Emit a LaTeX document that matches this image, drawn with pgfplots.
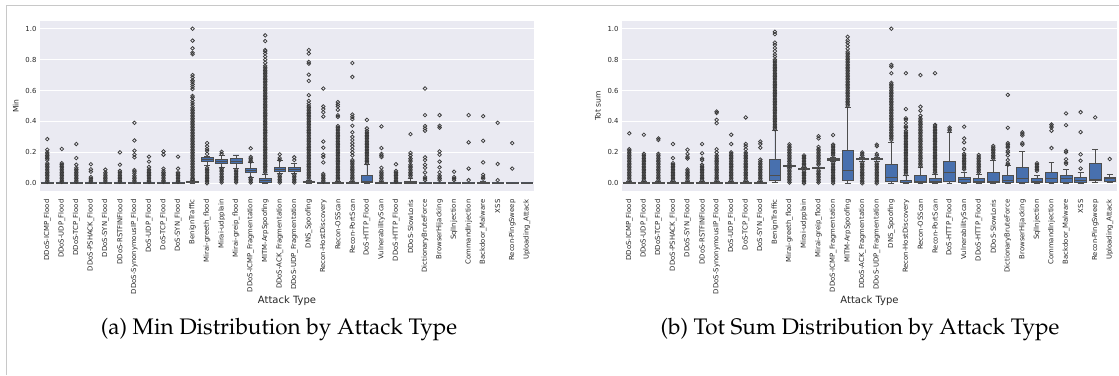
\documentclass[border=0pt]{standalone}
\usepackage[T1]{fontenc}
\usepackage{fontspec}
\usepackage{pgfplots}
\pgfplotsset{compat=1.18}
\usepgfplotslibrary{statistics}
\newfontfamily\dvsans{DejaVu Sans}
\definecolor{bgcol}{HTML}{EAEAF2}
\definecolor{boxblue}{RGB}{72,112,174}
\definecolor{linegray}{RGB}{78,78,78}
\definecolor{markgray}{RGB}{58,58,58}
\definecolor{txt}{RGB}{38,38,38}
\definecolor{framegray}{RGB}{200,200,200}
\newcommand{\capfont}{\fontencoding{T1}\fontfamily{ppl}\selectfont}
\pgfplotsset{
  sns/.style={
    scale only axis, anchor=south west,
    xmin=0.5, xmax=34.5, ymin=-0.05, ymax=1.05,
    axis background/.style={fill=bgcol},
    axis line style={draw=none},
    major tick length=0pt,
    ymajorgrids, grid style={white, line width=0.9pt},
    ytick={0,0.2,0.4,0.6,0.8,1},
    yticklabel style={/pgf/number format/fixed, /pgf/number format/precision=1, /pgf/number format/fixed zerofill},
    /pgf/number format/assume math mode=true,
    ticklabel style={font=\dvsans\fontsize{6.9}{8}\selectfont, text=txt},
    xtick={1,...,34},
    xticklabel style={rotate=90, anchor=east, font=\dvsans\fontsize{6.9}{8}\selectfont},
    xticklabel shift=5pt,
    xlabel style={font=\dvsans\fontsize{10}{12}\selectfont, text=txt, yshift=5pt},
    ylabel style={font=\dvsans\fontsize{7.6}{9}\selectfont, text=txt},
    boxplot/draw direction=y,
    boxplot/box extend=0.8,
    boxplot/whisker extend=0.4,
    xticklabels={DDoS-ICMP\_Flood, DDoS-UDP\_Flood, DDoS-TCP\_Flood, DDoS-PSHACK\_Flood, DDoS-SYN\_Flood, DDoS-RSTFINFlood, DDoS-SynonymousIP\_Flood, DoS-UDP\_Flood, DoS-TCP\_Flood, DoS-SYN\_Flood, BenignTraffic, Mirai-greeth\_flood, Mirai-udpplain, Mirai-greip\_flood, DDoS-ICMP\_Fragmentation, MITM-ArpSpoofing, DDoS-ACK\_Fragmentation, DDoS-UDP\_Fragmentation, DNS\_Spoofing, Recon-HostDiscovery, Recon-OSScan, Recon-PortScan, DoS-HTTP\_Flood, VulnerabilityScan, DDoS-HTTP\_Flood, DDoS-SlowLoris, DictionaryBruteForce, BrowserHijacking, SqlInjection, CommandInjection, Backdoor\_Malware, XSS, Recon-PingSweep, Uploading\_Attack},
  },
  mybox/.style={draw=linegray, fill=boxblue, line width=0.65pt, mark=o, mark size=1.8pt, mark options={draw=markgray, fill=none, line width=0.75pt}},
  bx/.style n args={6}{mybox, boxplot prepared={draw position=#1, lower whisker=#2, lower quartile=#3, median=#4, upper quartile=#5, upper whisker=#6}},
}
\begin{document}
\begin{tikzpicture}
\path[use as bounding box] (0,0) rectangle (1119pt,375pt);
\draw[framegray, line width=0.8pt] (6.5pt,0pt) -- (6.5pt,369.5pt) -- (1119pt,369.5pt);
\begin{axis}[sns, at={(40pt,184pt)}, width=494pt, height=170pt, xlabel={Attack Type}, ylabel={Min}]
\addplot[bx={1}{0}{0}{0.002}{0.004}{0.008}] table[row sep=\\,y index=0]{data\\0.286\\0.217\\0.20\\0.19\\0.18\\0.17\\0.16\\0.15\\0.13\\0.12\\0.11\\0.10\\0.09\\0.08\\0.07\\0.06\\0.05\\0.04\\0.03\\0.02\\0.01\\};
\addplot[bx={2}{0}{0}{0.002}{0.004}{0.008}] table[row sep=\\,y index=0]{data\\0.222\\0.13\\0.12\\0.11\\0.10\\0.09\\0.08\\0.07\\0.06\\0.05\\0.04\\0.03\\0.02\\0.01\\};
\addplot[bx={3}{0}{0}{0.002}{0.004}{0.008}] table[row sep=\\,y index=0]{data\\0.254\\0.163\\0.12\\0.10\\0.09\\0.08\\0.07\\0.06\\0.05\\0.04\\0.03\\0.02\\0.01\\};
\addplot[bx={4}{0}{0}{0.002}{0.004}{0.008}] table[row sep=\\,y index=0]{data\\0.123\\0.09\\0.075\\0.04\\0.03\\0.02\\0.01\\};
\addplot[bx={5}{0}{0}{0.002}{0.004}{0.008}] table[row sep=\\,y index=0]{data\\0.088\\0.07\\0.06\\0.05\\0.04\\0.03\\0.02\\0.01\\};
\addplot[bx={6}{0}{0}{0.002}{0.004}{0.008}] table[row sep=\\,y index=0]{data\\0.20\\0.12\\0.08\\0.07\\0.06\\0.05\\0.04\\0.03\\0.02\\0.01\\};
\addplot[bx={7}{0}{0}{0.002}{0.004}{0.008}] table[row sep=\\,y index=0]{data\\0.391\\0.277\\0.211\\0.185\\0.168\\0.085\\0.075\\0.065\\0.05\\0.04\\0.03\\0.02\\0.01\\};
\addplot[bx={8}{0}{0}{0.002}{0.004}{0.008}] table[row sep=\\,y index=0]{data\\0.172\\0.14\\0.105\\0.09\\0.08\\0.07\\0.06\\0.05\\0.04\\0.03\\0.02\\0.01\\};
\addplot[bx={9}{0}{0}{0.002}{0.004}{0.008}] table[row sep=\\,y index=0]{data\\0.206\\0.185\\0.095\\0.08\\0.07\\0.06\\0.05\\0.04\\0.03\\0.02\\0.01\\};
\addplot[bx={10}{0}{0}{0.002}{0.004}{0.008}] table[row sep=\\,y index=0]{data\\0.172\\0.095\\0.07\\0.06\\0.05\\0.04\\0.03\\0.02\\0.01\\};
\addplot[bx={11}{0}{0.005}{0.008}{0.012}{0.02}] table[row sep=\\,y index=0]{data\\1.0\\0.923\\0.873\\0.845\\0.835\\0.70\\0.685\\0.665\\0.655\\0.64\\0.625\\0.61\\0.565\\0.555\\0.535\\0.52\\0.505\\0.49\\0.48\\0.47\\0.46\\0.45\\0.44\\0.43\\0.42\\0.41\\0.40\\0.39\\0.38\\0.37\\0.36\\0.35\\0.34\\0.33\\0.32\\0.31\\0.30\\0.29\\0.28\\0.27\\0.26\\0.25\\0.24\\0.23\\0.22\\0.21\\0.20\\0.19\\0.18\\0.17\\0.16\\0.15\\0.14\\0.13\\0.12\\0.11\\0.10\\0.09\\0.08\\0.07\\0.06\\0.05\\0.04\\0.03\\0.025\\};
\addplot[bx={12}{0.114}{0.14}{0.152}{0.166}{0.174}] table[row sep=\\,y index=0]{data\\0.26\\0.24\\0.222\\0.21\\0.19\\0.10\\0.09\\0.08\\0.07\\0.06\\0.05\\0.04\\0.03\\0.02\\0.01\\0.0\\};
\addplot[bx={13}{0.105}{0.132}{0.143}{0.152}{0.178}] table[row sep=\\,y index=0]{data\\0.204\\0.19\\0.095\\0.085\\0.075\\0.065\\0.055\\0.045\\0.035\\0.025\\0.015\\0.005\\};
\addplot[bx={14}{0.095}{0.13}{0.145}{0.16}{0.183}] table[row sep=\\,y index=0]{data\\0.085\\0.075\\0.065\\0.055\\0.045\\0.035\\0.025\\0.015\\0.005\\};
\addplot[bx={15}{0.04}{0.071}{0.085}{0.097}{0.133}] table[row sep=\\,y index=0]{data\\0.226\\0.17\\0.16\\0.15\\0.14\\0.035\\0.025\\0.015\\0.005\\};
\addplot[bx={16}{0}{0.009}{0.02}{0.03}{0.06}] table[row sep=\\,y index=0]{data\\0.957\\0.92\\0.862\\0.855\\0.84\\0.82\\0.80\\0.78\\0.76\\0.75\\0.74\\0.73\\0.72\\0.71\\0.70\\0.69\\0.68\\0.67\\0.66\\0.65\\0.64\\0.63\\0.62\\0.61\\0.60\\0.59\\0.58\\0.57\\0.56\\0.55\\0.54\\0.53\\0.52\\0.51\\0.50\\0.49\\0.48\\0.47\\0.46\\0.45\\0.44\\0.43\\0.42\\0.41\\0.40\\0.39\\0.38\\0.37\\0.36\\0.35\\0.34\\0.33\\0.32\\0.31\\0.30\\0.29\\0.28\\0.27\\0.26\\0.25\\0.24\\0.23\\0.22\\0.21\\0.20\\0.19\\0.18\\0.17\\0.16\\0.15\\0.14\\0.13\\0.12\\0.11\\0.10\\0.09\\0.08\\0.07\\};
\addplot[bx={17}{0.065}{0.075}{0.09}{0.103}{0.146}] table[row sep=\\,y index=0]{data\\0.187\\0.163\\0.15\\0.055\\0.045\\0.035\\0.025\\0.015\\0.005\\};
\addplot[bx={18}{0.065}{0.078}{0.09}{0.10}{0.129}] table[row sep=\\,y index=0]{data\\0.168\\0.15\\0.055\\0.045\\0.035\\0.025\\0.015\\0.005\\};
\addplot[bx={19}{0}{0.006}{0.01}{0.015}{0.022}] table[row sep=\\,y index=0]{data\\0.862\\0.839\\0.785\\0.774\\0.703\\0.662\\0.57\\0.533\\0.515\\0.50\\0.49\\0.48\\0.47\\0.46\\0.45\\0.44\\0.43\\0.42\\0.41\\0.40\\0.39\\0.38\\0.37\\0.36\\0.35\\0.34\\0.33\\0.32\\0.31\\0.30\\0.29\\0.28\\0.27\\0.26\\0.25\\0.24\\0.23\\0.22\\0.21\\0.20\\0.19\\0.18\\0.17\\0.16\\0.15\\0.14\\0.13\\0.12\\0.11\\0.10\\0.09\\0.08\\0.07\\0.06\\0.05\\0.04\\0.03\\};
\addplot[bx={20}{0}{0.001}{0.002}{0.004}{0.008}] table[row sep=\\,y index=0]{data\\0.613\\0.497\\0.48\\0.46\\0.432\\0.27\\0.23\\0.185\\0.17\\0.135\\0.06\\0.05\\0.04\\0.03\\0.02\\0.01\\};
\addplot[bx={21}{0}{0.002}{0.004}{0.007}{0.012}] table[row sep=\\,y index=0]{data\\0.525\\0.51\\0.497\\0.475\\0.44\\0.43\\0.37\\0.36\\0.35\\0.34\\0.33\\0.32\\0.31\\0.30\\0.29\\0.28\\0.27\\0.26\\0.25\\0.24\\0.23\\0.22\\0.21\\0.20\\0.19\\0.18\\0.17\\0.16\\0.15\\0.14\\0.13\\0.12\\0.11\\0.10\\0.09\\0.08\\0.07\\0.06\\0.05\\0.04\\0.03\\0.02\\};
\addplot[bx={22}{0}{0.002}{0.004}{0.007}{0.012}] table[row sep=\\,y index=0]{data\\0.778\\0.688\\0.445\\0.43\\0.415\\0.372\\0.33\\0.30\\0.28\\0.26\\0.24\\0.22\\0.20\\0.18\\0.15\\0.14\\0.13\\0.12\\0.11\\0.10\\0.09\\0.08\\0.07\\0.06\\0.05\\0.04\\0.03\\0.02\\};
\addplot[bx={23}{0}{0.003}{0.01}{0.054}{0.12}] table[row sep=\\,y index=0]{data\\0.41\\0.355\\0.34\\0.33\\0.32\\0.31\\0.30\\0.29\\0.28\\0.27\\0.26\\0.25\\0.24\\0.23\\0.22\\0.21\\0.20\\0.19\\0.18\\0.17\\0.16\\0.15\\0.14\\0.13\\};
\addplot[bx={24}{0}{0.002}{0.004}{0.008}{0.015}] table[row sep=\\,y index=0]{data\\0.368\\0.228\\0.19\\0.18\\0.17\\0.10\\0.08\\0.07\\0.06\\0.05\\0.04\\0.03\\0.02\\};
\addplot[bx={25}{0}{0.001}{0.002}{0.004}{0.008}] table[row sep=\\,y index=0]{data\\0.123\\0.08\\0.07\\0.06\\0.05\\0.04\\0.03\\0.02\\0.01\\};
\addplot[bx={26}{0}{0.002}{0.006}{0.015}{0.03}] table[row sep=\\,y index=0]{data\\0.318\\0.196\\0.18\\0.16\\0.15\\0.14\\0.12\\0.11\\0.10\\0.09\\0.08\\0.07\\0.06\\0.05\\0.04\\};
\addplot[bx={27}{0}{0.001}{0.002}{0.004}{0.008}] table[row sep=\\,y index=0]{data\\0.613\\0.441\\0.37\\0.355\\0.34\\0.168\\0.15\\0.12\\0.10\\0.07\\0.04\\0.03\\0.02\\};
\addplot[bx={28}{0}{0.001}{0.002}{0.004}{0.008}] table[row sep=\\,y index=0]{data\\0.441\\0.372\\0.36\\0.206\\0.185\\0.14\\0.103\\0.071\\0.05\\0.04\\0.03\\0.02\\};
\addplot[bx={29}{0}{0.001}{0.002}{0.004}{0.008}] table[row sep=\\,y index=0]{data\\0.075\\0.04\\0.03\\0.02\\};
\addplot[bx={30}{0}{0.001}{0.002}{0.004}{0.008}] table[row sep=\\,y index=0]{data\\0.441\\0.265\\0.095\\0.02\\};
\addplot[bx={31}{0}{0.001}{0.004}{0.008}{0.015}] table[row sep=\\,y index=0]{data\\0.434\\0.275\\0.135\\0.055\\0.04\\0.03\\};
\addplot[bx={32}{0}{0.001}{0.002}{0.004}{0.008}] table[row sep=\\,y index=0]{data\\0.391\\0.125\\0.02\\};
\addplot[bx={33}{0}{0.001}{0.002}{0.004}{0.008}] table[row sep=\\,y index=0]{data\\0.26\\0.095\\};
\addplot[bx={34}{0}{0.001}{0.002}{0.003}{0.005}] coordinates {};
\end{axis}
\begin{axis}[sns, at={(622pt,184pt)}, width=495pt, height=170pt, xlabel={Attack Type}, ylabel={Tot sum}]
\addplot[bx={1}{0}{0.002}{0.005}{0.008}{0.015}] table[row sep=\\,y index=0]{data\\0.323\\0.22\\0.21\\0.20\\0.19\\0.18\\0.17\\0.16\\0.15\\0.14\\0.13\\0.12\\0.11\\0.10\\0.09\\0.08\\0.07\\0.06\\0.05\\0.04\\0.03\\0.02\\};
\addplot[bx={2}{0}{0.002}{0.005}{0.008}{0.015}] table[row sep=\\,y index=0]{data\\0.314\\0.19\\0.18\\0.17\\0.16\\0.15\\0.14\\0.13\\0.12\\0.11\\0.10\\0.09\\0.08\\0.07\\0.06\\0.05\\0.04\\0.03\\0.02\\};
\addplot[bx={3}{0}{0.002}{0.005}{0.008}{0.015}] table[row sep=\\,y index=0]{data\\0.29\\0.28\\0.19\\0.18\\0.17\\0.16\\0.15\\0.14\\0.13\\0.12\\0.11\\0.10\\0.09\\0.08\\0.07\\0.06\\0.05\\0.04\\0.03\\0.02\\};
\addplot[bx={4}{0}{0.002}{0.005}{0.008}{0.015}] table[row sep=\\,y index=0]{data\\0.254\\0.163\\0.13\\0.12\\0.11\\0.10\\0.09\\0.08\\0.07\\0.06\\0.05\\0.04\\0.03\\0.02\\};
\addplot[bx={5}{0}{0.002}{0.005}{0.008}{0.015}] table[row sep=\\,y index=0]{data\\0.217\\0.19\\0.17\\0.16\\0.09\\0.08\\0.07\\0.06\\0.05\\0.04\\0.03\\0.02\\};
\addplot[bx={6}{0}{0.002}{0.005}{0.008}{0.015}] table[row sep=\\,y index=0]{data\\0.254\\0.194\\0.16\\0.15\\0.12\\0.11\\0.10\\0.09\\0.08\\0.07\\0.06\\0.05\\0.04\\0.03\\0.02\\};
\addplot[bx={7}{0}{0.002}{0.005}{0.008}{0.015}] table[row sep=\\,y index=0]{data\\0.464\\0.455\\0.41\\0.389\\0.22\\0.20\\0.18\\0.17\\0.16\\0.15\\0.14\\0.13\\0.12\\0.11\\0.10\\0.09\\0.08\\0.07\\0.06\\0.05\\0.04\\0.03\\0.02\\};
\addplot[bx={8}{0}{0.002}{0.005}{0.008}{0.015}] table[row sep=\\,y index=0]{data\\0.314\\0.254\\0.20\\0.19\\0.18\\0.17\\0.16\\0.15\\0.14\\0.13\\0.12\\0.11\\0.10\\0.09\\0.08\\0.07\\0.06\\0.05\\0.04\\0.03\\0.02\\};
\addplot[bx={9}{0}{0.002}{0.005}{0.008}{0.015}] table[row sep=\\,y index=0]{data\\0.426\\0.254\\0.24\\0.22\\0.20\\0.19\\0.18\\0.17\\0.16\\0.15\\0.14\\0.13\\0.12\\0.11\\0.10\\0.09\\0.08\\0.07\\0.06\\0.05\\0.04\\0.03\\0.02\\};
\addplot[bx={10}{0}{0.002}{0.005}{0.008}{0.015}] table[row sep=\\,y index=0]{data\\0.27\\0.255\\0.23\\0.153\\0.14\\0.13\\0.12\\0.11\\0.10\\0.09\\0.08\\0.07\\0.06\\0.05\\0.04\\0.03\\0.02\\};
\addplot[bx={11}{0.006}{0.017}{0.053}{0.152}{0.344}] table[row sep=\\,y index=0]{data\\0.98\\0.965\\0.91\\0.895\\0.875\\0.855\\0.835\\0.82\\0.80\\0.79\\0.78\\0.77\\0.76\\0.75\\0.74\\0.73\\0.72\\0.71\\0.70\\0.69\\0.68\\0.67\\0.66\\0.65\\0.64\\0.63\\0.62\\0.61\\0.60\\0.59\\0.58\\0.57\\0.56\\0.55\\0.54\\0.53\\0.52\\0.51\\0.50\\0.49\\0.48\\0.47\\0.46\\0.45\\0.44\\0.43\\0.42\\0.41\\0.40\\0.39\\0.38\\0.37\\0.36\\0.35\\};
\addplot[bx={12}{0.105}{0.108}{0.111}{0.114}{0.118}] table[row sep=\\,y index=0]{data\\0.252\\0.24\\0.23\\0.22\\0.21\\0.20\\0.19\\0.18\\0.17\\0.16\\0.15\\0.14\\0.13\\0.12\\0.095\\0.085\\0.075\\0.065\\0.055\\0.045\\0.035\\0.025\\0.015\\0.005\\};
\addplot[bx={13}{0.09}{0.093}{0.096}{0.099}{0.102}] table[row sep=\\,y index=0]{data\\0.18\\0.17\\0.16\\0.15\\0.14\\0.13\\0.12\\0.11\\0.08\\0.07\\0.06\\0.05\\0.04\\0.03\\0.02\\0.01\\0.0\\};
\addplot[bx={14}{0.094}{0.097}{0.10}{0.103}{0.106}] table[row sep=\\,y index=0]{data\\0.305\\0.29\\0.235\\0.22\\0.21\\0.20\\0.19\\0.18\\0.17\\0.16\\0.15\\0.14\\0.13\\0.12\\0.085\\0.075\\0.065\\0.055\\0.045\\0.035\\0.025\\0.015\\0.005\\};
\addplot[bx={15}{0.14}{0.148}{0.155}{0.16}{0.166}] table[row sep=\\,y index=0]{data\\0.312\\0.25\\0.24\\0.23\\0.22\\0.21\\0.20\\0.19\\0.18\\0.13\\0.12\\0.11\\0.10\\0.09\\0.08\\0.07\\0.06\\0.05\\0.04\\0.03\\0.02\\0.01\\0.0\\};
\addplot[bx={16}{0}{0.02}{0.086}{0.21}{0.49}] table[row sep=\\,y index=0]{data\\0.948\\0.925\\0.91\\0.89\\0.87\\0.85\\0.84\\0.83\\0.82\\0.81\\0.80\\0.79\\0.78\\0.77\\0.76\\0.75\\0.74\\0.73\\0.72\\0.71\\0.70\\0.69\\0.68\\0.67\\0.66\\0.65\\0.64\\0.63\\0.62\\0.61\\0.60\\0.59\\0.58\\0.57\\0.56\\0.55\\0.54\\0.53\\0.52\\0.51\\0.50\\};
\addplot[bx={17}{0.145}{0.152}{0.157}{0.162}{0.17}] table[row sep=\\,y index=0]{data\\0.20\\0.19\\0.18\\0.13\\0.12\\0.11\\0.10\\0.09\\0.08\\0.07\\0.06\\0.05\\0.04\\0.03\\0.02\\0.01\\0.0\\};
\addplot[bx={18}{0.145}{0.152}{0.157}{0.162}{0.17}] table[row sep=\\,y index=0]{data\\0.25\\0.24\\0.19\\0.18\\0.13\\0.12\\0.11\\0.10\\0.09\\0.08\\0.07\\0.06\\0.05\\0.04\\0.03\\0.02\\0.01\\0.0\\};
\addplot[bx={19}{0}{0.01}{0.041}{0.12}{0.265}] table[row sep=\\,y index=0]{data\\1.0\\0.766\\0.755\\0.712\\0.65\\0.64\\0.63\\0.62\\0.61\\0.60\\0.59\\0.58\\0.57\\0.56\\0.55\\0.54\\0.53\\0.52\\0.51\\0.50\\0.49\\0.48\\0.47\\0.46\\0.45\\0.44\\0.43\\0.42\\0.41\\0.40\\0.39\\0.38\\0.37\\0.36\\0.35\\0.34\\0.33\\0.32\\0.31\\0.30\\0.29\\0.28\\};
\addplot[bx={20}{0}{0.003}{0.008}{0.02}{0.049}] table[row sep=\\,y index=0]{data\\0.712\\0.48\\0.42\\0.41\\0.39\\0.37\\0.36\\0.34\\0.33\\0.32\\0.31\\0.30\\0.29\\0.28\\0.27\\0.26\\0.25\\0.24\\0.23\\0.22\\0.21\\0.20\\0.19\\0.18\\0.17\\0.16\\0.15\\0.14\\0.13\\0.12\\0.11\\0.10\\0.09\\0.08\\0.07\\0.06\\};
\addplot[bx={21}{0}{0.005}{0.015}{0.049}{0.103}] table[row sep=\\,y index=0]{data\\0.70\\0.495\\0.47\\0.437\\0.42\\0.41\\0.40\\0.39\\0.38\\0.37\\0.36\\0.35\\0.34\\0.33\\0.32\\0.31\\0.30\\0.29\\0.28\\0.27\\0.26\\0.25\\0.24\\0.23\\0.22\\0.21\\0.20\\0.19\\0.18\\0.17\\0.16\\0.15\\0.14\\0.13\\0.12\\0.11\\};
\addplot[bx={22}{0}{0.003}{0.01}{0.032}{0.06}] table[row sep=\\,y index=0]{data\\0.712\\0.378\\0.37\\0.36\\0.35\\0.34\\0.33\\0.32\\0.31\\0.30\\0.29\\0.28\\0.27\\0.26\\0.25\\0.24\\0.23\\0.22\\0.21\\0.20\\0.19\\0.18\\0.17\\0.16\\0.15\\0.14\\0.13\\0.12\\0.11\\0.10\\0.09\\0.08\\0.07\\};
\addplot[bx={23}{0}{0.013}{0.071}{0.14}{0.327}] table[row sep=\\,y index=0]{data\\0.36\\0.35\\0.34\\};
\addplot[bx={24}{0}{0.008}{0.028}{0.039}{0.07}] table[row sep=\\,y index=0]{data\\0.366\\0.29\\0.265\\0.221\\0.19\\0.18\\0.17\\0.16\\0.15\\0.14\\0.13\\0.12\\0.11\\0.10\\0.09\\};
\addplot[bx={25}{0}{0.005}{0.015}{0.032}{0.055}] table[row sep=\\,y index=0]{data\\0.183\\0.17\\0.16\\0.15\\0.14\\0.13\\0.12\\0.11\\0.10\\0.09\\0.08\\0.07\\};
\addplot[bx={26}{0}{0.005}{0.015}{0.071}{0.146}] table[row sep=\\,y index=0]{data\\0.241\\0.23\\0.22\\0.21\\0.20\\0.19\\0.18\\0.17\\0.16\\};
\addplot[bx={27}{0}{0.005}{0.02}{0.054}{0.114}] table[row sep=\\,y index=0]{data\\0.572\\0.359\\0.26\\0.25\\0.24\\0.23\\0.21\\0.20\\0.18\\0.15\\0.13\\0.12\\};
\addplot[bx={28}{0}{0.008}{0.035}{0.103}{0.206}] table[row sep=\\,y index=0]{data\\0.33\\0.32\\0.31\\0.26\\0.25\\};
\addplot[bx={29}{0}{0.003}{0.01}{0.032}{0.05}] table[row sep=\\,y index=0]{data\\0.13\\0.12\\0.11\\0.10\\0.09\\0.08\\};
\addplot[bx={30}{0}{0.005}{0.032}{0.073}{0.135}] table[row sep=\\,y index=0]{data\\0.38\\0.37\\0.36\\0.34\\0.228\\};
\addplot[bx={31}{0}{0.005}{0.034}{0.054}{0.09}] table[row sep=\\,y index=0]{data\\0.452\\0.376\\0.21\\0.20\\0.155\\0.135\\0.125\\};
\addplot[bx={32}{0}{0.003}{0.02}{0.041}{0.071}] table[row sep=\\,y index=0]{data\\0.46\\0.331\\0.187\\0.146\\0.095\\};
\addplot[bx={33}{0.005}{0.02}{0.028}{0.127}{0.221}] table[row sep=\\,y index=0]{data\\0.426\\};
\addplot[bx={34}{0.005}{0.015}{0.03}{0.037}{0.056}] table[row sep=\\,y index=0]{data\\0.157\\};
\end{axis}
\node[font=\capfont\fontsize{22.5}{26}\selectfont] at (279pt,45pt) {(a) Min Distribution by Attack Type};
\node[font=\capfont\fontsize{22.5}{26}\selectfont] at (860pt,45pt) {(b) Tot Sum Distribution by Attack Type};
\end{tikzpicture}
\end{document}
